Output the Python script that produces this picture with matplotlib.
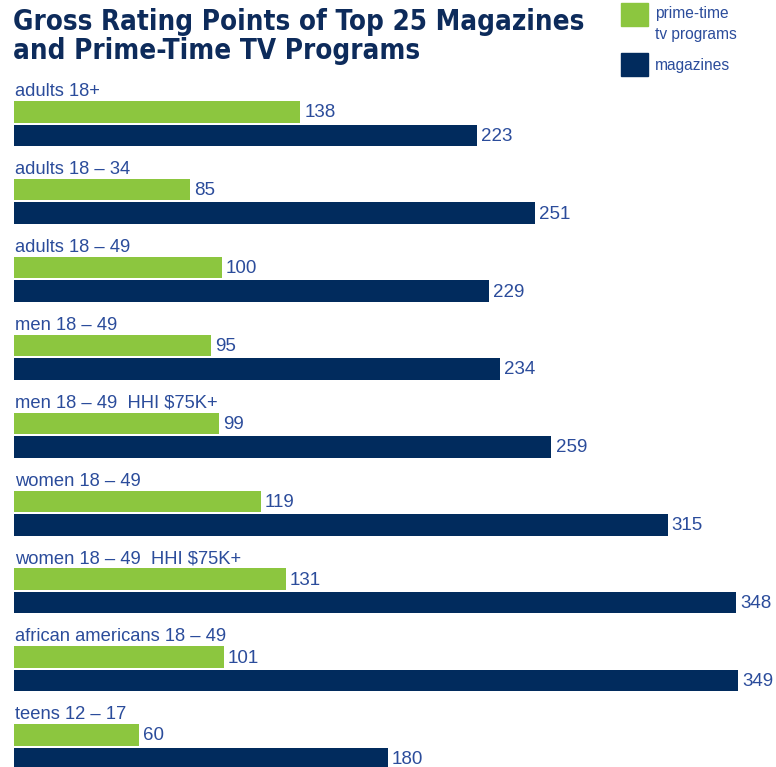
import matplotlib
matplotlib.use("Agg")
import matplotlib.pyplot as plt
from matplotlib.patches import Rectangle
from matplotlib import font_manager

categories = [
    "adults 18+",
    "adults 18 \u2013 34",
    "adults 18 \u2013 49",
    "men 18 \u2013 49",
    "men 18 \u2013 49  HHI $75K+",
    "women 18 \u2013 49",
    "women 18 \u2013 49  HHI $75K+",
    "african americans 18 \u2013 49",
    "teens 12 \u2013 17",
]
tv_programs = [138, 85, 100, 95, 99, 119, 131, 101, 60]
magazines = [223, 251, 229, 234, 259, 315, 348, 349, 180]

GREEN = "#8cc63f"
NAVY = "#012b5d"
LABEL_BLUE = "#2b4c9b"
TITLE_NAVY = "#0d2b5b"

W, H = 776, 767
fig = plt.figure(figsize=(W / 100, H / 100), dpi=100)
ax = fig.add_axes([0, 0, 1, 1])

px_per_unit = 2.075
left_px = 14
ax.set_xlim(-left_px / px_per_unit, (W - left_px) / px_per_unit)
ax.set_ylim(H, 0)
ax.axis("off")

font = "Liberation Sans"
pitch = 77.9
bar_h = 21.5
for i, (cat, tv, mg) in enumerate(zip(categories, tv_programs, magazines)):
    g_top = 101 + i * pitch
    m_top = 124.5 + i * pitch
    ax.barh(g_top + bar_h / 2, tv, height=bar_h, left=0, color=GREEN)
    ax.barh(m_top + bar_h / 2, mg, height=bar_h, left=0, color=NAVY)
    ax.text(0.6, g_top - 5, cat, color=LABEL_BLUE, fontsize=13.2,
            family=font, va="baseline", ha="left")
    ax.text(tv + 2, g_top + bar_h / 2 + 1, str(tv), color=LABEL_BLUE,
            fontsize=13.5, family=font, va="center", ha="left")
    ax.text(mg + 2, m_top + bar_h / 2 + 1, str(mg), color=LABEL_BLUE,
            fontsize=13.5, family=font, va="center", ha="left")

# Title (condensed bold)
title_fp = font_manager.FontProperties(family="DejaVu Sans", weight="bold",
                                       stretch="condensed", size=19.9)
for txt, y in [("Gross Rating Points of Top 25 Magazines", 30),
               ("and Prime-Time TV Programs", 59)]:
    fig.text(13 / W, 1 - y / H, txt, color=TITLE_NAVY,
             fontproperties=title_fp, va="baseline")

# Legend
fig.patches.append(Rectangle((621 / W, 1 - 26 / H), 27 / W, 23 / H,
                             transform=fig.transFigure, color=GREEN))
fig.patches.append(Rectangle((621 / W, 1 - 76 / H), 27 / W, 23 / H,
                             transform=fig.transFigure, color=NAVY))
for txt, y in [("prime-time", 18), ("tv programs", 39), ("magazines", 70)]:
    fig.text(655 / W, 1 - y / H, txt, color=LABEL_BLUE, fontsize=11.2,
             family=font, va="baseline")

fig.savefig("out.png", dpi=100)
